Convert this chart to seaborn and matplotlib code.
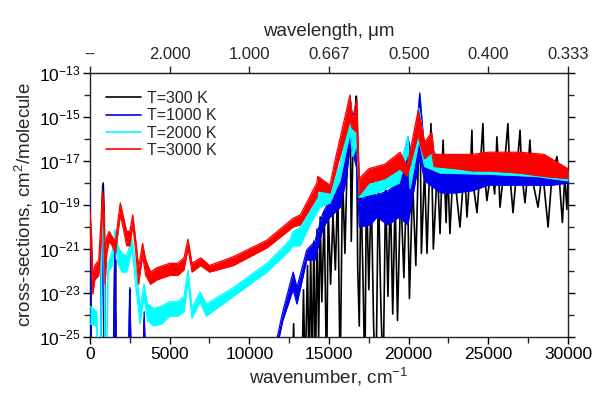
import numpy as np
import pandas as pd
import matplotlib
matplotlib.use("Agg")
import matplotlib.pyplot as plt
import seaborn as sns
from matplotlib.ticker import FixedLocator, FixedFormatter, NullFormatter

# ---------------- data (log10 of cross-section, cm^2/molecule) ----------------
# T = 3000 K : band (lower / upper envelope)
red_wn = [0, 100, 180, 300, 550, 700, 780, 850, 950, 1050, 1200, 1400, 1600, 1750, 1900,
          2100, 2300, 2500, 2680, 2850, 3050, 3300, 3500, 3800, 4200, 4600, 5000, 5500,
          5900, 6150, 6400, 6950, 7500, 9000, 11100, 12750, 13200, 14240, 14300, 15060,
          15400, 16320, 16450, 16750, 16900, 17500, 18500, 19460, 19900, 20600, 20800,
          21000, 21450, 21600, 23000, 24000, 25000, 27000, 28500, 30000]
red_lo = [-20.2, -21.75, -23.05, -22.4, -22.2, -20.65, -18.9, -19.55, -22.6, -21.2, -20.65,
          -20.85, -21.2, -20.3, -19.45, -20.1, -20.85, -20.85, -19.9, -20.95, -22.6, -21.3,
          -22.2, -22.6, -22.4, -22.3, -22.2, -22.2, -21.95, -20.95, -22.05, -21.75, -22.05,
          -21.75, -20.95, -20.0, -19.9, -18.65, -18.35, -18.45, -17.55, -15.15, -15.5, -15.7,
          -18.55, -18.0, -17.8, -17.35, -17.7, -15.8, -16.45, -16.9, -16.6, -17.25, -17.35,
          -17.45, -17.45, -17.55, -17.7, -17.8]
red_hi = [-19.2, -20.45, -22.3, -21.75, -21.5, -19.55, -18.35, -18.8, -21.2, -20.45, -20.2,
          -20.45, -20.65, -19.75, -18.9, -19.55, -20.2, -20.2, -19.45, -20.45, -21.85, -20.75,
          -21.5, -22.05, -21.85, -21.75, -21.65, -21.65, -21.4, -20.55, -21.65, -21.4, -21.75,
          -21.35, -20.6, -19.6, -19.45, -18.0, -17.7, -18.1, -16.9, -14.0, -15.15, -14.2,
          -17.8, -17.35, -17.15, -16.6, -17.25, -14.7, -15.35, -16.15, -15.7, -16.7, -16.7,
          -16.7, -16.6, -16.6, -16.7, -17.35]

# T = 2000 K
cyan_wn = [0, 420, 520, 650, 750, 800, 880, 950, 1050, 1130, 1400, 1570, 1750, 2000, 2300,
           2640, 2900, 3140, 3390, 3600, 4000, 4500, 5000, 5500, 5900, 6150, 6400, 6900,
           7300, 9000, 11100, 12550, 12700, 13200, 13800, 14430, 15060, 15700, 16320, 16500,
           16750, 16900, 18000, 19400, 19950, 20090, 20650, 21000, 22000, 25000, 28000, 30000]
cyan_lo = [-24.4, -24.5, -27.0, -27.0, -20.65, -19.45, -20.65, -27.0, -27.0, -22.05, -21.75,
           -20.55, -21.65, -22.05, -22.05, -20.95, -22.85, -24.4, -23.15, -24.25, -24.5, -24.4,
           -24.05, -24.05, -23.85, -22.4, -24.15, -23.4, -24.05, -23.15, -22.05, -21.05, -20.85,
           -20.85, -19.9, -19.1, -18.9, -17.85, -15.7, -16.8, -16.25, -18.65, -18.45, -18.0,
           -16.6, -18.25, -16.05, -17.25, -17.55, -17.6, -17.7, -17.9]
cyan_hi = [-23.6, -23.85, -26.5, -26.5, -19.55, -18.8, -19.55, -26.5, -26.5, -21.65, -21.1,
           -20.1, -20.85, -21.2, -21.3, -20.55, -21.95, -23.7, -22.6, -23.5, -23.7, -23.6,
           -23.4, -23.4, -23.15, -21.95, -23.7, -22.95, -23.5, -22.75, -21.65, -20.6, -20.25,
           -20.0, -19.2, -18.35, -18.25, -17.15, -14.05, -15.7, -15.15, -17.9, -17.8, -17.35,
           -15.9, -17.35, -14.6, -16.25, -16.8, -16.8, -16.9, -17.45]

# T = 1000 K
blue_wn = [0, 60, 650, 780, 880, 1450, 1550, 1650, 2400, 2500, 2600, 3300, 3400, 3500, 11300,
           12100, 12750, 12990, 13600, 14120, 14600, 14940, 15700, 16100, 16320, 16550, 16750,
           16900, 17600, 18000, 18700, 19400, 19950, 20300, 20700, 21000, 22000, 23000, 24000,
           25000, 27000, 29000, 30000]
blue_lo = [-19.55, -27.0, -27.0, -19.0, -27.0, -27.0, -21.5, -27.0, -27.0, -23.05, -27.0, -27.0,
           -24.15, -27.0, -27.0, -24.25, -22.85, -23.5, -21.5, -21.5, -20.1, -19.65, -19.1,
           -17.8, -16.25, -16.8, -17.35, -20.0, -19.9, -19.55, -19.9, -19.55, -19.9, -18.45,
           -16.8, -17.9, -18.45, -18.45, -18.35, -18.1, -18.1, -18.1, -18.0]
blue_hi = [-18.45, -26.5, -26.5, -18.1, -26.5, -26.5, -20.75, -26.5, -26.5, -22.75, -26.5, -26.5,
           -23.85, -26.5, -26.5, -23.85, -22.05, -22.75, -21.05, -20.65, -19.4, -18.9, -17.9,
           -15.6, -14.05, -15.45, -15.35, -18.8, -18.45, -18.55, -18.35, -18.0, -15.9, -17.15,
           -13.9, -16.6, -16.8, -16.9, -16.9, -17.0, -17.15, -17.25, -17.55]

# T = 300 K : single strongly modulated trace
black_wn = [0, 30, 90, 650, 760, 830, 900, 950, 1550, 1600, 1650, 2450, 2500, 2550, 3350, 3400,
            3450, 12700, 12780, 12850, 13300, 13400, 13500, 13650, 13750, 13850, 13950, 14050,
            14150, 14250, 14350, 14450, 14550, 14700, 14850, 14950, 15100, 15250, 15400, 15550,
            15700, 15850, 16000, 16150, 16250, 16320, 16400, 16500, 16650, 16720, 16800, 16900,
            17000, 17150, 17250, 17350, 17500, 17650, 17800, 17950, 18100, 18250, 18400, 18550,
            18700, 18850, 19000, 19150, 19300, 19500, 19700, 19900, 20050, 20250, 20450, 20700,
            20800, 21000, 21150, 21400, 21550, 21800, 21970, 22160, 22350, 22450, 22590, 22800,
            23000, 23220, 23500, 23660, 23900, 23970, 24040, 24290, 24500, 24660, 24750, 24910,
            25200, 25400, 25540, 25650, 25730, 26000, 26230, 26350, 26550, 26800, 26990, 27100,
            27300, 27500, 27610, 27750, 28120, 28400, 28750, 29000, 29310, 29450, 29650, 29800,
            29930, 30000]
black_val = [-27.0, -20.1, -27.0, -27.0, -19.0, -18.0, -19.55, -27.0, -27.0, -21.5, -27.0, -27.0,
             -22.85, -27.0, -27.0, -24.5, -27.0, -27.0, -24.4, -27.0, -27.0, -22.85, -27.0, -21.75,
             -27.0, -21.2, -26.5, -20.65, -27.0, -20.1, -25.05, -19.55, -23.4, -19.3, -27.0,
             -19.1, -22.6, -19.45, -21.95, -18.0, -27.0, -17.55, -21.2, -16.8, -15.6, -14.4,
             -20.65, -16.25, -14.6, -14.05, -21.75, -24.5, -18.0, -22.85, -27.0, -18.0, -22.85,
             -18.2, -24.5, -27.0, -18.0, -23.4, -27.0, -18.2, -23.15, -18.35, -23.95, -18.65,
             -24.25, -18.2, -22.3, -17.15, -23.25, -17.9, -21.75, -14.15, -21.2, -17.35, -21.2,
             -15.3, -21.0, -17.3, -20.3, -16.05, -19.8, -17.3, -20.3, -17.2, -18.5, -20.0,
             -17.2, -19.55, -17.0, -15.6, -18.0, -19.35, -17.2, -15.3, -17.5, -18.8, -17.3,
             -18.5, -15.9, -17.5, -19.1, -17.3, -15.3, -17.6, -19.35, -17.3, -15.6, -17.6,
             -18.9, -17.3, -16.05, -17.8, -19.1, -17.4, -20.0, -17.6, -16.8, -17.8, -19.8,
             -17.7, -19.2, -17.9]

legend_labels = ["T=300 K", "T=1000 K", "T=2000 K", "T=3000 K"]
colors = ["black", "#0000ee", "#00ffff", "#ff0000"]

x_ticks = [0, 5000, 10000, 15000, 20000, 25000, 30000]
top_tick_labels = ["--", "2.000", "1.000", "0.667", "0.500", "0.400", "0.333"]
y_exponents = list(range(-25, -12))
y_label_exponents = [-25, -23, -21, -19, -17, -15, -13]

# ---------------- plotting ----------------
sns.set_style("ticks")
plt.rcParams["font.family"] = ["Liberation Sans", "DejaVu Sans"]
plt.rcParams["mathtext.fontset"] = "custom"
plt.rcParams["mathtext.rm"] = "Liberation Sans"
plt.rcParams["mathtext.it"] = "Liberation Sans"

fig = plt.figure(figsize=(5.98, 3.95), dpi=100)
ax = fig.add_axes([0.1505, 0.1468, 0.7993, 0.6684])

def band(wn, lo, hi, color, label, z):
    lo_v = 10.0 ** np.array(lo)
    hi_v = 10.0 ** np.array(hi)
    ax.fill_between(wn, lo_v, hi_v, color=color, lw=0, zorder=z)
    d = pd.DataFrame({"wn": wn, "hi": hi_v, "lo": lo_v})
    sns.lineplot(data=d, x="wn", y="hi", color=color, lw=0.9, ax=ax, zorder=z,
                 label=label, estimator=None, sort=False)
    sns.lineplot(data=d, x="wn", y="lo", color=color, lw=0.9, ax=ax, zorder=z,
                 estimator=None, sort=False)

dblack = pd.DataFrame({"wn": black_wn, "val": 10.0 ** np.array(black_val)})
sns.lineplot(data=dblack, x="wn", y="val", color=colors[0], lw=1.2, ax=ax, zorder=2,
             label=legend_labels[0], estimator=None, sort=False)
band(blue_wn, blue_lo, blue_hi, colors[1], legend_labels[1], 3)
band(cyan_wn, cyan_lo, cyan_hi, colors[2], legend_labels[2], 4)
band(red_wn, red_lo, red_hi, colors[3], legend_labels[3], 5)

ax.set_yscale("log")
ax.set_xlim(0, 30000)
ax.set_ylim(1e-25, 1e-13)

ax.xaxis.set_major_locator(FixedLocator(x_ticks))
ax.xaxis.set_minor_locator(FixedLocator([2500, 7500, 12500, 17500, 22500, 27500]))
ax.xaxis.set_major_formatter(FixedFormatter([str(t) for t in x_ticks]))
ax.xaxis.set_minor_formatter(NullFormatter())

ax.yaxis.set_major_locator(FixedLocator([10.0 ** e for e in y_label_exponents]))
ax.yaxis.set_major_formatter(FixedFormatter(["10$^{%d}$" % e for e in y_label_exponents]))
ax.yaxis.set_minor_locator(FixedLocator([10.0 ** e for e in y_exponents
                                         if e not in y_label_exponents]))
ax.yaxis.set_minor_formatter(NullFormatter())

ax.tick_params(axis="both", which="major", direction="out", length=5, width=1, labelsize=12.5,
               colors="black", pad=2)
ax.tick_params(axis="both", which="minor", direction="out", length=4, width=1)
ax.tick_params(axis="y", which="both", right=True, labelright=False)

for s in ax.spines.values():
    s.set_visible(True)
    s.set_linewidth(1.0)
    s.set_color("#222222")

ax.set_xlabel("wavenumber, cm$^{-1}$", fontsize=13.5, labelpad=3)
ax.set_ylabel("cross-sections, cm$^{2}$/molecule", fontsize=13.5, labelpad=3)

top = ax.secondary_xaxis("top")
top.set_xticks(x_ticks)
top.set_xticklabels(top_tick_labels)
top.tick_params(direction="out", length=5, width=1, labelsize=12, pad=3)
top.set_xlabel("wavelength, \u03bcm", fontsize=13.5, labelpad=8)

handles, labels = ax.get_legend_handles_labels()
leg = ax.legend(handles, labels, loc="upper left", bbox_to_anchor=(0.01, 0.975),
                frameon=False, fontsize=11.5, handlelength=2.2, handletextpad=0.35,
                labelspacing=0.15, borderaxespad=0.3)
for h in leg.get_lines():
    h.set_linewidth(1.2)

fig.savefig("out.png", dpi=100)
